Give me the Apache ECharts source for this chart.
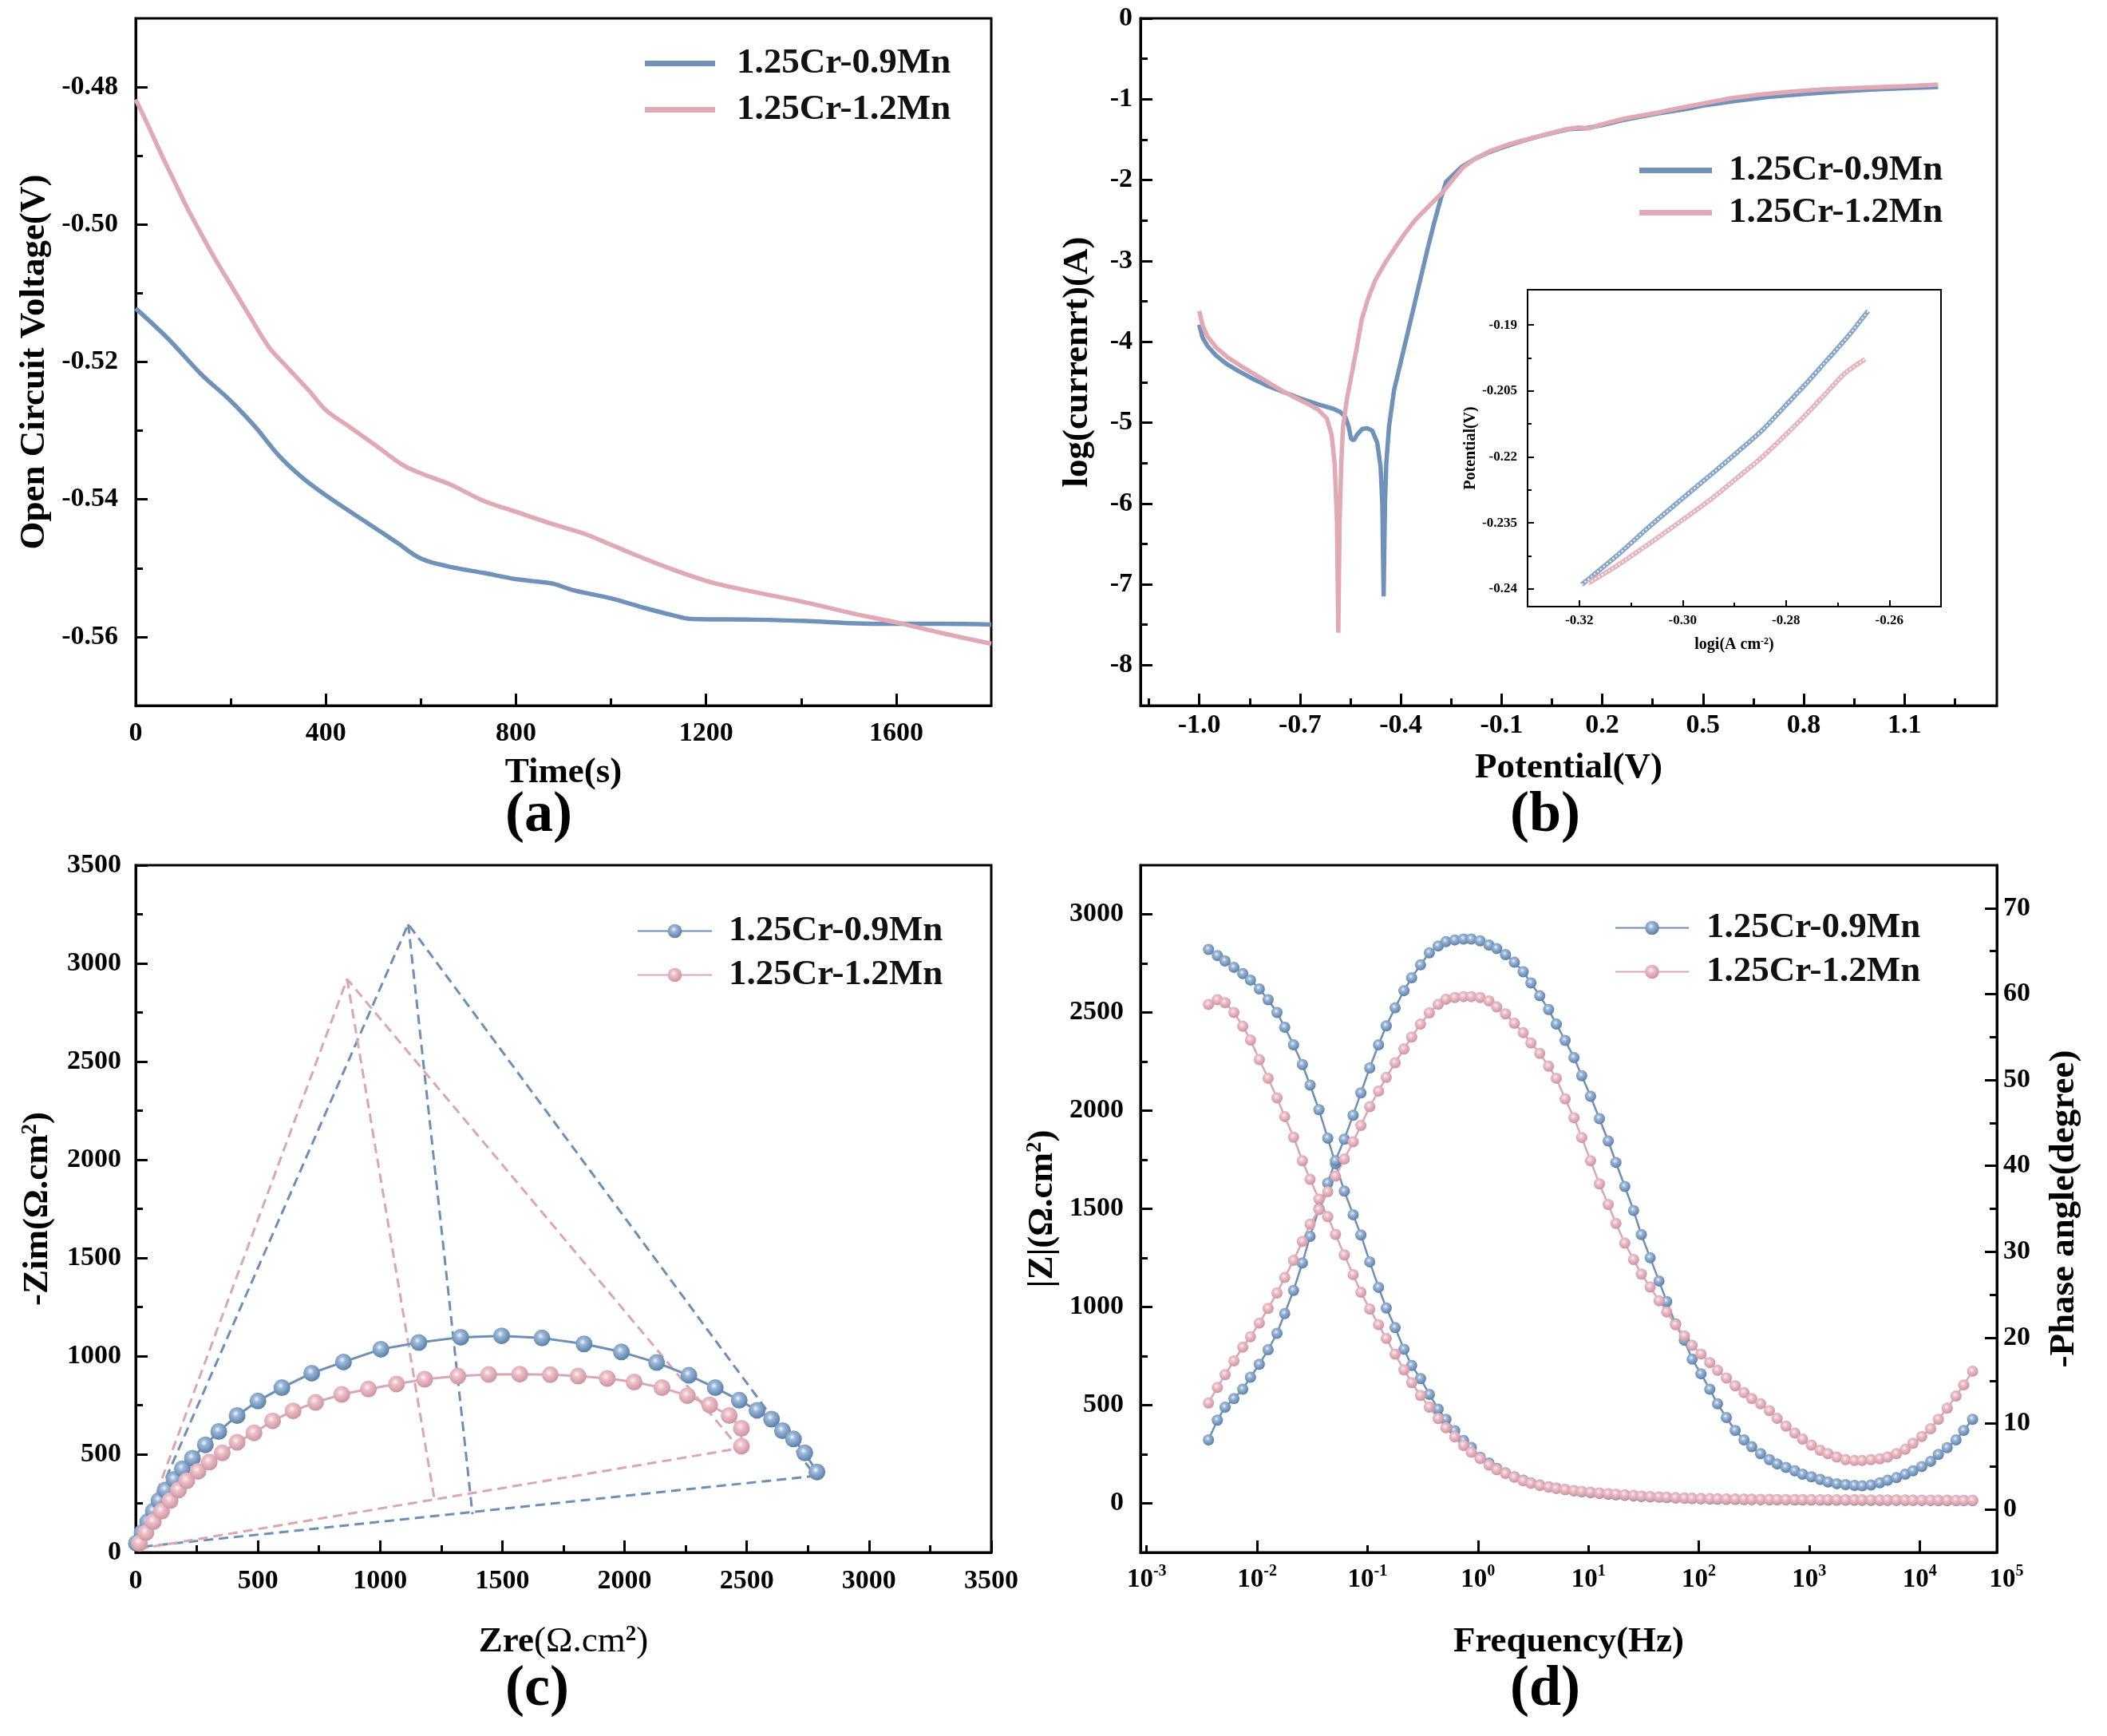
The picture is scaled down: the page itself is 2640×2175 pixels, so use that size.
<!DOCTYPE html>
<html><head><meta charset="utf-8">
<script src="https://cdn.jsdelivr.net/npm/echarts@6/dist/echarts.min.js"></script>
<style>html,body{margin:0;padding:0;background:#fff}#c{width:2640px;height:2175px}</style>
</head><body><div id="c"></div>
<script>
// ---------------- DATA ----------------
const alloyNames = ['1.25Cr-0.9Mn', '1.25Cr-1.2Mn'];
const panelLabels = ['(a)', '(b)', '(c)', '(d)'];

// (a) open circuit voltage vs time  [t (s), V]
const ocpBlue = [[0,-0.5122],[68,-0.5166],[138,-0.5218],[199,-0.5256],[251,-0.5294],[301,-0.5336],[350,-0.5368],[400,-0.5394],[478,-0.5430],[548,-0.5462],[600,-0.5486],[661,-0.5498],[732,-0.5507],[800,-0.5516],[850,-0.5520],[880,-0.5523],[920,-0.5532],[1000,-0.5544],[1071,-0.5558],[1127,-0.5568],[1170,-0.5574],[1300,-0.5575],[1410,-0.5577],[1500,-0.5580],[1601,-0.5581],[1700,-0.5581],[1800,-0.5582]];
const ocpPink = [[0,-0.4818],[25,-0.4854],[54,-0.4898],[82,-0.4938],[110,-0.4978],[138,-0.5014],[167,-0.5050],[202,-0.5090],[237,-0.5130],[280,-0.5178],[322,-0.5210],[365,-0.5242],[400,-0.5270],[449,-0.5294],[506,-0.5322],[562,-0.5350],[600,-0.5362],[661,-0.5378],[732,-0.5402],[800,-0.5418],[887,-0.5438],[944,-0.5450],[1000,-0.5466],[1099,-0.5494],[1198,-0.5518],[1269,-0.5530],[1410,-0.5550],[1509,-0.5566],[1601,-0.5579],[1693,-0.5594],[1800,-0.5610]];
const ocpTimeTicks = [0, 400, 800, 1200, 1600];
const ocpTimeMinor = [200, 600, 1000, 1400];
const ocpVoltTicks = [-0.56, -0.54, -0.52, -0.50, -0.48];
const ocpVoltMinor = [-0.55, -0.53, -0.51, -0.49];

// (b) polarization curves [E (V), log i]
const polBlue = [[-1.0,-3.79],[-0.99,-3.95],[-0.976,-4.05],[-0.95,-4.17],[-0.92,-4.27],[-0.88,-4.37],[-0.84,-4.46],[-0.80,-4.54],[-0.75,-4.62],[-0.70,-4.70],[-0.65,-4.77],[-0.60,-4.83],[-0.58,-4.87],[-0.565,-4.93],[-0.555,-5.05],[-0.548,-5.20],[-0.54,-5.22],[-0.53,-5.15],[-0.515,-5.08],[-0.50,-5.07],[-0.485,-5.10],[-0.47,-5.25],[-0.46,-5.55],[-0.455,-6.0],[-0.451,-7.15],[-0.447,-6.0],[-0.443,-5.5],[-0.435,-5.05],[-0.42,-4.6],[-0.40,-4.25],[-0.38,-3.9],[-0.36,-3.55],[-0.34,-3.2],[-0.32,-2.85],[-0.30,-2.52],[-0.28,-2.22],[-0.265,-2.02],[-0.24,-1.92],[-0.22,-1.84],[-0.18,-1.74],[-0.14,-1.66],[-0.10,-1.60],[-0.04,-1.52],[0.02,-1.45],[0.10,-1.37],[0.15,-1.36],[0.20,-1.32],[0.26,-1.26],[0.36,-1.18],[0.45,-1.12],[0.50,-1.08],[0.60,-1.02],[0.70,-0.97],[0.80,-0.935],[0.90,-0.905],[1.0,-0.88],[1.1,-0.865],[1.2,-0.85]];
const polPink = [[-1.0,-3.62],[-0.99,-3.80],[-0.976,-3.93],[-0.95,-4.07],[-0.916,-4.19],[-0.876,-4.30],[-0.836,-4.40],[-0.796,-4.50],[-0.756,-4.60],[-0.716,-4.69],[-0.676,-4.77],[-0.646,-4.84],[-0.62,-4.95],[-0.606,-5.15],[-0.597,-5.5],[-0.59,-6.2],[-0.586,-7.6],[-0.582,-6.2],[-0.577,-5.5],[-0.572,-5.05],[-0.56,-4.70],[-0.546,-4.40],[-0.53,-4.05],[-0.516,-3.72],[-0.496,-3.45],[-0.476,-3.24],[-0.446,-3.02],[-0.416,-2.83],[-0.386,-2.65],[-0.356,-2.49],[-0.316,-2.32],[-0.276,-2.155],[-0.246,-2.0],[-0.216,-1.85],[-0.18,-1.74],[-0.136,-1.645],[-0.08,-1.56],[0.0,-1.47],[0.094,-1.37],[0.13,-1.35],[0.16,-1.36],[0.20,-1.31],[0.264,-1.24],[0.36,-1.17],[0.44,-1.10],[0.504,-1.05],[0.58,-0.99],[0.664,-0.945],[0.75,-0.91],[0.864,-0.877],[1.0,-0.855],[1.1,-0.84],[1.2,-0.82]];
const polETicks = [-1.0, -0.7, -0.4, -0.1, 0.2, 0.5, 0.8, 1.1];
const polEMinor = [-1.15, -0.85, -0.55, -0.25, 0.05, 0.35, 0.65, 0.95, 1.25];
const polITicks = [-8, -7, -6, -5, -4, -3, -2, -1, 0];
const polIMinor = [-7.5, -6.5, -5.5, -4.5, -3.5, -2.5, -1.5, -0.5];

// (b) inset Tafel region [log i, E]
const tafelBlue = [[-0.3195,-0.2490],[-0.3127,-0.2424],[-0.3066,-0.2360],[-0.30,-0.2294],[-0.2943,-0.2238],[-0.2894,-0.2189],[-0.2844,-0.2137],[-0.28,-0.2082],[-0.276,-0.2032],[-0.2723,-0.1983],[-0.268,-0.1926],[-0.2641,-0.1868]];
const tafelPink = [[-0.3183,-0.2487],[-0.3127,-0.2447],[-0.3066,-0.2398],[-0.30,-0.2343],[-0.2943,-0.2294],[-0.2894,-0.2247],[-0.2844,-0.2198],[-0.28,-0.2149],[-0.276,-0.2102],[-0.2723,-0.2056],[-0.2686,-0.2010],[-0.2647,-0.1978]];
const insetXTicks = [-0.32, -0.30, -0.28, -0.26];
const insetXMinor = [-0.31, -0.29, -0.27];
const insetYTicks = [-0.25, -0.235, -0.22, -0.205, -0.19];
const insetYTickLabels = ['-0.24', '-0.235', '-0.22', '-0.205', '-0.19'];
const insetYMinor = [-0.2425, -0.2275, -0.2125, -0.1975];

// (c) Nyquist [Zre, -Zim]
const nyqBlue = [[3,47],[26,101],[49,156],[72,210],[95,264],[122,318],[157,372],[191,426],[232,480],[285,548],[340,616],[415,697],[500,771],[598,839],[720,913],[850,970],[1003,1035],[1158,1069],[1330,1096],[1497,1103],[1662,1092],[1834,1062],[1987,1021],[2131,967],[2263,902],[2371,839],[2469,775],[2542,724],[2601,679],[2646,620],[2691,578],[2737,507],[2787,410]];
const nyqPink = [[15,47],[42,101],[72,156],[106,210],[141,264],[175,318],[209,365],[255,413],[301,460],[354,507],[415,561],[484,609],[560,670],[644,721],[736,764],[843,805],[952,832],[1067,858],[1182,882],[1318,898],[1444,906],[1571,908],[1696,905],[1810,898],[1929,886],[2039,868],[2153,839],[2257,798],[2348,751],[2428,697],[2478,632],[2478,541]];
const nyqBlueTriangle = [[0,25],[1115,3200],[2780,390],[0,25]];
const nyqBlueDrop = [[1115,3200],[1378,195]];
const nyqPinkTriangle = [[0,15],[865,2920],[2470,530],[0,15]];
const nyqPinkDrop = [[865,2920],[1222,272]];
const nyqTicks = [0, 500, 1000, 1500, 2000, 2500, 3000, 3500];
const nyqMinor = [250, 750, 1250, 1750, 2250, 2750, 3250];

// (d) Bode: log10 frequency, |Z| and -phase
const freqLog10 = [-2.44,-2.36,-2.29,-2.21,-2.13,-2.06,-1.98,-1.90,-1.82,-1.75,-1.67,-1.59,-1.52,-1.44,-1.36,-1.29,-1.21,-1.13,-1.06,-0.98,-0.90,-0.83,-0.75,-0.67,-0.60,-0.52,-0.44,-0.36,-0.29,-0.21,-0.13,-0.06,0.02,0.10,0.17,0.25,0.33,0.41,0.48,0.56,0.64,0.71,0.79,0.87,0.94,1.02,1.10,1.18,1.25,1.33,1.41,1.48,1.56,1.64,1.71,1.79,1.87,1.94,2.02,2.10,2.17,2.25,2.33,2.41,2.48,2.56,2.64,2.71,2.79,2.87,2.94,3.02,3.10,3.17,3.25,3.33,3.41,3.48,3.56,3.64,3.71,3.79,3.87,3.94,4.02,4.10,4.17,4.25,4.33,4.40,4.48];
const zmodBlue = [2821,2790,2762,2730,2698,2665,2620,2565,2500,2425,2335,2235,2130,2005,1860,1730,1590,1470,1367,1230,1100,995,895,785,702,635,555,480,428,370,320,285,235,205,178,155,135,118,104,93,84,77,70,64,59,55,51,47,44,41,38,35,33,31,29,27,26,24,23,22,21,20.5,20,19.5,19,18.6,18.2,17.9,17.6,17.3,17,16.8,16.6,16.4,16.2,16,15.8,15.6,15.4,15.2,15.1,15,14.9,14.8,14.7,14.6,14.5,14.4,14.3,14.2,14.1];
const zmodPink = [2541,2565,2550,2500,2430,2360,2260,2165,2065,1970,1865,1745,1650,1550,1460,1370,1265,1165,1075,990,910,840,760,680,615,550,490,432,385,338,295,260,228,195,172,152,133,115,102,91,83,76,70,65,61,57,53,50,47,44,41,38,35,33,31,29,27,26,25,24,23,22.5,22,21.5,21,20.5,20,19.8,19.6,19.4,19.2,19,18.8,18.6,18.4,18.2,18,17.8,17.6,17.4,17.2,17,16.8,16.6,16.4,16.2,16,15.8,15.6,15.4,15.2];
const phaseBlue = [8.1,10.4,11.9,12.9,14.0,15.4,16.9,18.6,20.5,22.8,25.5,28.7,31.8,35.0,38.0,40.6,43.1,45.9,48.5,51.4,54.1,56.3,58.4,60.4,61.9,63.4,64.8,65.6,66.1,66.3,66.4,66.4,66.2,65.7,65.3,64.6,63.7,62.6,61.3,59.8,58.2,56.5,54.6,52.6,50.5,48.1,45.5,42.9,40.4,37.6,34.8,32.0,29.3,26.6,24.2,21.6,19.7,17.5,15.8,14.0,12.3,10.7,9.2,8.1,7.3,6.5,5.8,5.3,4.9,4.5,4.1,3.8,3.5,3.2,3.0,2.9,2.8,2.75,2.85,3.1,3.4,3.7,4.1,4.5,5.0,5.6,6.4,7.2,8.1,9.2,10.5];
const phasePink = [12.4,14.2,15.7,17.3,18.9,20.1,21.7,23.4,25.2,27.0,29.0,31.2,33.2,34.9,37.0,38.8,40.8,42.8,44.7,46.9,48.7,50.3,52.0,53.6,55.0,56.5,57.8,58.8,59.4,59.6,59.7,59.7,59.6,59.2,58.5,57.7,56.6,55.5,54.3,53.1,51.6,50.2,47.8,45.6,43.3,40.6,37.9,35.5,33.3,31.0,29.1,27.4,25.9,24.3,23.0,21.5,20.2,19.1,18.1,17.1,16.2,15.3,14.4,13.6,12.9,12.3,11.5,10.6,9.7,8.9,8.2,7.5,6.9,6.5,6.1,5.8,5.7,5.7,5.8,5.9,6.1,6.5,7.0,7.7,8.5,9.4,10.5,11.8,13.2,14.5,16.1];
const freqMajorTicks = [-2, 0, 2, 4];
const freqMinorTicks = [-3, -1, 1, 3];
const freqLabelValues = [-3, -2, -1, 0, 1, 2, 3, 4, 4.70];
const freqLabelExps = ['-3', '-2', '-1', '0', '1', '2', '3', '4', '5'];
const zmodTicks = [0, 500, 1000, 1500, 2000, 2500, 3000];
const zmodMinor = [250, 750, 1250, 1750, 2250, 2750];
const phaseTicks = [0, 10, 20, 30, 40, 50, 60, 70];
const phaseMinor = [5, 15, 25, 35, 45, 55, 65];

// ---------------- STYLE ----------------
const FONT = '"Liberation Serif","Times New Roman",serif';
const BLUE = '#7092ba', PINK = '#e0a9b4';
const BLUE_L = '#6d8fb7', PINK_L = '#dca6b1';
const ballBlue = {type:'radial', x:0.42, y:0.38, r:0.62, colorStops:[{offset:0,color:'#f2f6fb'},{offset:0.3,color:'#9db8d8'},{offset:1,color:'#5a7ea8'}]};
const ballPink = {type:'radial', x:0.42, y:0.38, r:0.62, colorStops:[{offset:0,color:'#fff5f7'},{offset:0.3,color:'#eec2cb'},{offset:1,color:'#cd92a0'}]};
const plain = v => String(v);

function mainAxis(o) {
  return {
    type:'value', gridIndex:o.grid, position:o.pos, min:o.min, max:o.max,
    axisLine:{show:true, onZero:false, lineStyle:{color:'#000', width:o.lw || 3}},
    axisTick:{show:true, inside:true, length:o.len || 15, customValues:o.ticks, lineStyle:{color:'#000', width:o.lw || 3}},
    axisLabel:{show:true, customValues:o.labels || o.ticks, formatter:o.fmt || plain, margin:o.margin, color:'#000',
      fontFamily:FONT, fontWeight:'bold', fontSize:o.fs || 34, rich:o.rich},
    splitLine:{show:false},
    name:o.name, nameLocation:'middle', nameGap:o.nameGap,
    nameTextStyle:Object.assign({color:'#000', fontFamily:FONT, fontWeight:'bold', fontSize:45}, o.nameStyle || {})
  };
}
function minorAxis(o) {
  return {
    type:'value', gridIndex:o.grid, position:o.pos, min:o.min, max:o.max,
    axisLine:{show:false, onZero:false},
    axisTick:{show:true, inside:true, length:o.len || 9, customValues:o.ticks, lineStyle:{color:'#000', width:o.lw || 3}},
    axisLabel:{show:false}, splitLine:{show:false}
  };
}
const supRich = (fs) => ({s:{fontSize:fs, fontWeight:'bold', fontFamily:FONT, color:'#000', verticalAlign:'top', lineHeight:Math.round(fs*1.1)}});

const legendText = {a1:alloyNames[0], a2:alloyNames[1], b1:alloyNames[0], b2:alloyNames[1], c1:alloyNames[0], c2:alloyNames[1], d1:alloyNames[0], d2:alloyNames[1]};
function legend(names, left, top, itemWidth, gap, pad, lineOnly) {
  const l = {
    data:names, orient:'vertical', left:left, top:top, itemWidth:itemWidth, itemHeight:lineOnly ? 7 : 22, itemGap:gap, padding:0,
    selectedMode:false, formatter:n => legendText[n],
    textStyle:{fontSize:45, fontWeight:'bold', fontFamily:FONT, color:'#111', lineHeight:45, padding:[0,0,0,pad]}
  };
  if (lineOnly) l.icon = 'rect';
  return l;
}

const xAxes = [
  mainAxis({grid:0, pos:'bottom', min:0, max:1800, ticks:ocpTimeTicks, margin:18, name:'Time(s)', nameGap:62}),
  minorAxis({grid:0, pos:'bottom', min:0, max:1800, ticks:ocpTimeMinor}),
  mainAxis({grid:1, pos:'bottom', min:-1.175, max:1.375, ticks:polETicks, fmt:v => v.toFixed(1), margin:8, name:'Potential(V)', nameGap:56}),
  minorAxis({grid:1, pos:'bottom', min:-1.175, max:1.375, ticks:polEMinor}),
  mainAxis({grid:2, pos:'bottom', min:0, max:3500, ticks:nyqTicks, margin:19, name:'{b|Zre}(Ω.cm{s|2})', nameGap:90,
    nameStyle:{fontWeight:'normal', rich:Object.assign({b:{fontSize:45, fontWeight:'bold', fontFamily:FONT, color:'#000'}}, supRich(27))}}),
  minorAxis({grid:2, pos:'bottom', min:0, max:3500, ticks:nyqMinor}),
  mainAxis({grid:3, pos:'bottom', min:-3.056, max:4.70, ticks:freqMajorTicks, labels:freqLabelValues, margin:14,
    fmt:v => { const i = freqLabelValues.findIndex(x => Math.abs(x - v) < 1e-6); return (i === 8 ? '{p|}' : '') + '{b|10}{s|' + freqLabelExps[i] + '}'; },
    rich:{b:{fontSize:33, fontWeight:'bold', fontFamily:FONT, color:'#000', lineHeight:40}, s:{fontSize:20, fontWeight:'bold', fontFamily:FONT, color:'#000', verticalAlign:'top', lineHeight:22}, p:{width:24}},
    name:'Frequency(Hz)', nameGap:90}),
  minorAxis({grid:3, pos:'bottom', min:-3.056, max:4.70, ticks:freqMinorTicks}),
  mainAxis({grid:4, pos:'bottom', min:-0.33, max:-0.25, ticks:insetXTicks, fmt:v => v.toFixed(2), margin:9, fs:17, len:8, lw:2,
    name:'logi(A cm{s|-2})', nameGap:38, nameStyle:{fontSize:20, rich:supRich(12)}}),
  minorAxis({grid:4, pos:'bottom', min:-0.33, max:-0.25, ticks:insetXMinor, len:5, lw:2})
];
const yAxes = [
  mainAxis({grid:0, pos:'left', min:-0.57, max:-0.47, ticks:ocpVoltTicks, fmt:v => v.toFixed(2), margin:22, name:'Open Circuit Voltage(V)', nameGap:104}),
  minorAxis({grid:0, pos:'left', min:-0.57, max:-0.47, ticks:ocpVoltMinor}),
  mainAxis({grid:1, pos:'left', min:-8.5, max:0, ticks:polITicks, fmt:v => String(Math.round(v)), margin:10, name:'log(currenrt)(A)', nameGap:56}),
  minorAxis({grid:1, pos:'left', min:-8.5, max:0, ticks:polIMinor}),
  mainAxis({grid:2, pos:'left', min:0, max:3500, ticks:nyqTicks, margin:18, name:'-Zim(Ω.cm{s|2})', nameGap:100, nameStyle:{rich:supRich(27)}}),
  minorAxis({grid:2, pos:'left', min:0, max:3500, ticks:nyqMinor}),
  mainAxis({grid:3, pos:'left', min:-250, max:3250, ticks:zmodTicks, margin:21, name:'|Z|(Ω.cm{s|2})', nameGap:100, nameStyle:{rich:supRich(27)}}),
  minorAxis({grid:3, pos:'left', min:-250, max:3250, ticks:zmodMinor}),
  mainAxis({grid:3, pos:'right', min:-5, max:75, ticks:phaseTicks, margin:8, name:'-Phase angle(degree)', nameGap:62}),
  minorAxis({grid:3, pos:'right', min:-5, max:75, ticks:phaseMinor}),
  mainAxis({grid:4, pos:'left', min:-0.254, max:-0.182, ticks:insetYTicks, fmt:v => { const i = insetYTicks.findIndex(x => Math.abs(x - v) < 1e-6); return insetYTickLabels[i]; }, margin:13, fs:17, len:8, lw:2,
    name:'Potential(V)', nameGap:50, nameStyle:{fontSize:20}}),
  minorAxis({grid:4, pos:'left', min:-0.254, max:-0.182, ticks:insetYMinor, len:5, lw:2})
];

function plainLine(name, xi, yi, data, color, width, smooth) {
  return {name, type:'line', xAxisIndex:xi, yAxisIndex:yi, data, symbol:'none', smooth:smooth || false,
    lineStyle:{color, width}, itemStyle:{color}, emphasis:{disabled:true}, z:3};
}
function ballLine(name, xi, yi, data, lineColor, ball, size, width) {
  return {name, type:'line', xAxisIndex:xi, yAxisIndex:yi, data, symbol:'circle', symbolSize:size, showSymbol:true,
    lineStyle:{color:lineColor, width}, itemStyle:{color:ball, borderWidth:0}, emphasis:{disabled:true}, z:4};
}
function dashLine(name, data, color) {
  return {name, type:'line', xAxisIndex:4, yAxisIndex:4, data, symbol:'none',
    lineStyle:{color, width:3, type:[12,7]}, emphasis:{disabled:true}, z:2};
}
const pair = (xs, ys) => xs.map((x, i) => [x, ys[i]]);

const series = [
  plainLine('a1', 0, 0, ocpBlue, BLUE, 5.5, 0.35),
  plainLine('a2', 0, 0, ocpPink, PINK, 5.5, 0.35),
  plainLine('b1', 2, 2, polBlue, BLUE, 5.5),
  plainLine('b2', 2, 2, polPink, PINK, 5.5),
  dashLine('cbt', nyqBlueTriangle, BLUE_L),
  dashLine('cbd', nyqBlueDrop, BLUE_L),
  dashLine('cpt', nyqPinkTriangle, PINK_L),
  dashLine('cpd', nyqPinkDrop, PINK_L),
  ballLine('c1', 4, 4, nyqBlue, BLUE_L, ballBlue, 21, 3),
  ballLine('c2', 4, 4, nyqPink, PINK_L, ballPink, 21, 3),
  ballLine('d1', 6, 6, pair(freqLog10, zmodBlue), BLUE_L, ballBlue, 14, 2.5),
  ballLine('d1p', 6, 8, pair(freqLog10, phaseBlue), BLUE_L, ballBlue, 14, 2.5),
  ballLine('d2', 6, 6, pair(freqLog10, zmodPink), PINK_L, ballPink, 14, 2.5),
  ballLine('d2p', 6, 8, pair(freqLog10, phasePink), PINK_L, ballPink, 14, 2.5),
  plainLine('i1', 8, 10, tafelBlue, '#87a6cc', 6, 0.3),
  {name:'i1w', type:'line', xAxisIndex:8, yAxisIndex:10, data:tafelBlue, symbol:'none', smooth:0.3, lineStyle:{color:'#ffffff', width:2, type:[2,3]}, z:5, emphasis:{disabled:true}},
  plainLine('i2', 8, 10, tafelPink, '#e6b3bd', 6, 0.3),
  {name:'i2w', type:'line', xAxisIndex:8, yAxisIndex:10, data:tafelPink, symbol:'none', smooth:0.3, lineStyle:{color:'#ffffff', width:2, type:[2,3]}, z:5, emphasis:{disabled:true}}
];

const gridBox = {show:true, borderColor:'#000', borderWidth:3, backgroundColor:'transparent'};
const option = {
  animation:false,
  backgroundColor:'#fff',
  grid:[
    Object.assign({left:170, top:23, width:1072, height:861}, gridBox),
    Object.assign({left:1429, top:23, width:1073, height:861}, gridBox),
    Object.assign({left:170, top:1084, width:1072, height:861}, gridBox),
    Object.assign({left:1429, top:1084, width:1073, height:861}, gridBox),
    {left:1914, top:363, width:518, height:397, show:true, borderColor:'#000', borderWidth:2, backgroundColor:'#fff'}
  ],
  xAxis:xAxes,
  yAxis:yAxes,
  legend:[
    legend(['a1','a2'], 808, 57, 88, 13, 22, true),
    legend(['b1','b2'], 2054, 191, 91, 8, 16, true),
    legend(['c1','c2'], 798, 1144, 93, 10, 16, false),
    legend(['d1','d2'], 2023, 1140, 92, 10, 17, false)
  ],
  graphic:[
    [675, 1022], [1936, 1022], [673, 2117], [1936, 2117]
  ].map((p, i) => ({type:'text', x:p[0], y:p[1], style:{text:panelLabels[i], font:'bold 72px "Liberation Serif", serif', fill:'#000', align:'center', verticalAlign:'middle'}})),
  series
};
const chart = echarts.init(document.getElementById('c'));
chart.setOption(option);
</script>
</body></html>
